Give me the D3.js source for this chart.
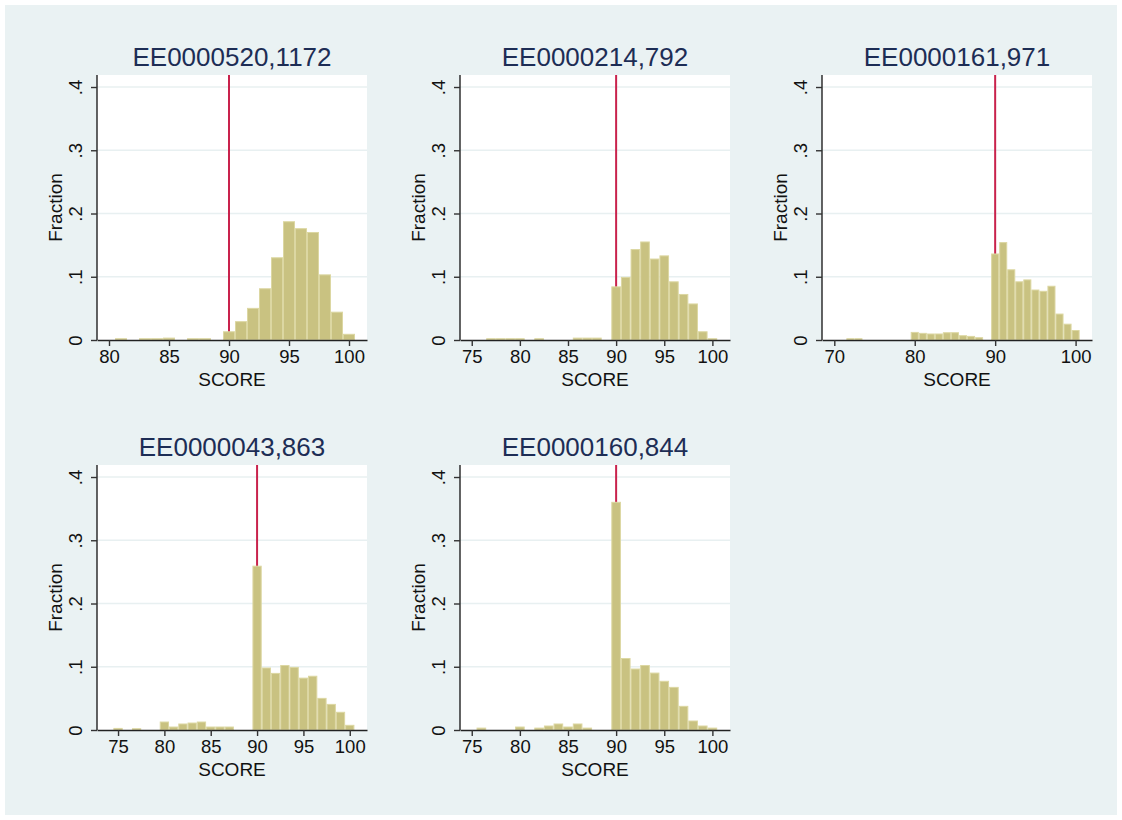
<!DOCTYPE html>
<html>
<head>
<meta charset="utf-8">
<script src="https://cdn.jsdelivr.net/npm/d3@7/dist/d3.min.js"></script>
<style>
  html, body { margin: 0; padding: 0; background: #ffffff; }
  svg { display: block; font-family: "Liberation Sans", Arial, Helvetica, sans-serif; }
</style>
</head>
<body>
<svg id="chart" width="1122" height="820"></svg>
<script>
// Panel titles (plant id, number of observations)
const panelTitles = ["EE0000520,1172", "EE0000214,792", "EE0000161,971", "EE0000043,863", "EE0000160,844"];

// Score bins (integer scores, unit-width bins) and fraction in each bin
const scores1 = [81, 83, 84, 85, 87, 88, 90, 91, 92, 93, 94, 95, 96, 97, 98, 99, 100];
const fraction1 = [0.002, 0.002, 0.002, 0.003, 0.002, 0.002, 0.013, 0.029, 0.050, 0.081, 0.130, 0.187, 0.176, 0.170, 0.103, 0.044, 0.009];

const scores2 = [77, 78, 79, 80, 82, 86, 87, 88, 90, 91, 92, 93, 94, 95, 96, 97, 98, 99, 100];
const fraction2 = [0.002, 0.002, 0.002, 0.002, 0.002, 0.003, 0.003, 0.003, 0.084, 0.099, 0.143, 0.155, 0.128, 0.133, 0.092, 0.072, 0.057, 0.013, 0.002];

const scores3 = [72, 73, 80, 81, 82, 83, 84, 85, 86, 87, 88, 90, 91, 92, 93, 94, 95, 96, 97, 98, 99, 100];
const fraction3 = [0.002, 0.002, 0.012, 0.0105, 0.0095, 0.0095, 0.0115, 0.0115, 0.0068, 0.0057, 0.0036, 0.136, 0.154, 0.111, 0.092, 0.095, 0.079, 0.077, 0.085, 0.041, 0.025, 0.015];

const scores4 = [75, 77, 80, 81, 82, 83, 84, 85, 86, 87, 90, 91, 92, 93, 94, 95, 96, 97, 98, 99, 100];
const fraction4 = [0.0025, 0.002, 0.0126, 0.0047, 0.0095, 0.011, 0.0126, 0.0047, 0.0047, 0.0047, 0.259, 0.098, 0.0895, 0.102, 0.099, 0.082, 0.085, 0.050, 0.0405, 0.028, 0.0074];

const scores5 = [76, 80, 82, 83, 84, 85, 86, 87, 90, 91, 92, 93, 94, 95, 96, 97, 98, 99, 100];
const fraction5 = [0.003, 0.0047, 0.003, 0.0063, 0.0095, 0.0047, 0.0095, 0.003, 0.360, 0.113, 0.0964, 0.102, 0.090, 0.077, 0.0674, 0.0374, 0.0142, 0.0063, 0.003];

// Axis ranges and tick labels
const xRanges = [[79.0, 101.5], [73.78, 101.83], [68.47, 102.04], [72.73, 101.86], [73.78, 101.83]];
const xTicks1 = [80, 85, 90, 95, 100];
const xTicks2 = [75, 80, 85, 90, 95, 100];
const xTicks3 = [70, 80, 90, 100];
const yTicks = [0, 0.1, 0.2, 0.3, 0.4];
const yTickLabels = ["0", ".1", ".2", ".3", ".4"];
const yMax = 0.419;
const cutoff = 90;

const panelScores = [scores1, scores2, scores3, scores4, scores5];
const panelFractions = [fraction1, fraction2, fraction3, fraction4, fraction5];
const panelXTicks = [xTicks1, xTicks2, xTicks3, xTicks2, xTicks2];

// Layout
const W = 1122, H = 820;
const colLefts = [97, 460, 822];
const rowTops = [75, 465];
const plotW = 270, plotH = 265;
const FONT = "'Liberation Sans', Arial, Helvetica, sans-serif";

const svg = d3.select("#chart");

svg.append("rect").attr("x", 0).attr("y", 0).attr("width", W).attr("height", H).attr("fill", "#ffffff");
svg.append("rect").attr("x", 5).attr("y", 5).attr("width", W - 10).attr("height", H - 10).attr("fill", "#eaf2f3");

panelTitles.forEach((title, i) => {
  const left = colLefts[i % 3];
  const top = rowTops[Math.floor(i / 3)];
  const g = svg.append("g").attr("transform", `translate(${left},${top})`);

  const x = d3.scaleLinear().domain(xRanges[i]).range([0, plotW]);
  const y = d3.scaleLinear().domain([0, yMax]).range([plotH, 0]);

  // plot region
  g.append("rect").attr("width", plotW).attr("height", plotH).attr("fill", "#ffffff");

  // horizontal grid
  g.selectAll("line.grid").data(yTicks.slice(1)).join("line")
    .attr("class", "grid")
    .attr("x1", 0).attr("x2", plotW)
    .attr("y1", d => y(d)).attr("y2", d => y(d))
    .attr("stroke", "#e8f0f1").attr("stroke-width", 1.6);

  // reference line at the cutoff score
  g.append("line")
    .attr("x1", x(cutoff)).attr("x2", x(cutoff))
    .attr("y1", 0).attr("y2", plotH)
    .attr("stroke", "#c9224c").attr("stroke-width", 2);

  // histogram bars
  const bins = panelScores[i].map((s, k) => ({ s, f: panelFractions[i][k] }));
  g.selectAll("rect.bar").data(bins).join("rect")
    .attr("class", "bar")
    .attr("x", d => x(d.s - 0.5) + 0.5)
    .attr("width", d => x(d.s + 0.5) - x(d.s - 0.5) - 1)
    .attr("y", d => y(d.f))
    .attr("height", d => y(0) - y(d.f))
    .attr("fill", "#c9c281")
    .attr("stroke", "#dcd7a2")
    .attr("stroke-width", 1);

  // x axis
  const xAxis = g.append("g").attr("transform", `translate(0,${plotH})`)
    .call(d3.axisBottom(x).tickValues(panelXTicks[i]).tickSize(6).tickSizeOuter(0).tickPadding(4).tickFormat(d3.format("d")));
  xAxis.select(".domain").attr("stroke", "#222").attr("stroke-width", 1.4);
  xAxis.selectAll(".tick line").attr("stroke", "#333").attr("stroke-width", 1.4);
  xAxis.selectAll(".tick text").attr("font-size", 18.5).attr("fill", "#111").attr("dy", "0.71em")
    .attr("font-family", FONT);

  // y axis
  const yAxis = g.append("g")
    .call(d3.axisLeft(y).tickValues(yTicks).tickSize(6).tickSizeOuter(0).tickFormat((d, k) => yTickLabels[k]));
  yAxis.select(".domain").attr("stroke", "#222").attr("stroke-width", 1.4)
    .attr("d", `M0,0V${plotH}`);
  yAxis.selectAll(".tick line").attr("stroke", "#333").attr("stroke-width", 1.4);
  yAxis.selectAll(".tick text")
    .attr("font-size", 18.5).attr("fill", "#111")
    .attr("font-family", FONT)
    .attr("x", null).attr("dy", null)
    .attr("text-anchor", "middle")
    .attr("transform", "translate(-15,0) rotate(-90)");

  // axis titles
  g.append("text")
    .attr("x", plotW / 2).attr("y", plotH + 46)
    .attr("text-anchor", "middle").attr("font-size", 19).attr("fill", "#111")
    .text("SCORE");
  g.append("text")
    .attr("transform", `translate(-35,${plotH / 2}) rotate(-90)`)
    .attr("text-anchor", "middle").attr("font-size", 19).attr("fill", "#111")
    .text("Fraction");

  // panel title
  g.append("text")
    .attr("x", plotW / 2).attr("y", -9.5)
    .attr("text-anchor", "middle").attr("font-size", 26).attr("fill", "#1d2d55")
    .text(title);
});
</script>
</body>
</html>
